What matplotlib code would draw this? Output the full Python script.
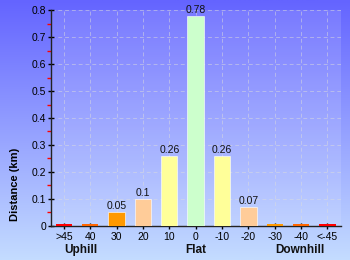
import numpy as np
import matplotlib
matplotlib.use('Agg')
import matplotlib.pyplot as plt
from matplotlib.colors import LinearSegmentedColormap

## Data ##

categories = ['>45', '40', '30', '20', '10', '0', '-10', '-20', '-30', '-40', '<-45']
distance = [0.005, 0.005, 0.05, 0.1, 0.26, 0.78, 0.26, 0.07, 0.005, 0.005, 0.005]
labels = ['', '', '0.05', '0.1', '0.26', '0.78', '0.26', '0.07', '', '', '']
colors = ['#ff0000', '#ff6600', '#ff9900', '#ffcc99', '#ffff99', '#ccffcc',
          '#ffff99', '#ffcc99', '#ff9900', '#ff6600', '#ff0000']
sections = ['Uphill', 'Flat', 'Downhill']
section_pos = [0.65, 5.0, 8.95]

plt.rcParams['font.family'] = ['Liberation Sans', 'DejaVu Sans']

fig = plt.figure(figsize = (3.5, 2.6), dpi = 100)

# Gradient background over the whole figure
bg = fig.add_axes([0, 0, 1, 1], zorder = -10)
cmap = LinearSegmentedColormap.from_list('bg', ['#6464ff', '#c4dcff'])
bg.imshow(np.linspace(0, 1, 256).reshape(-1, 1), aspect = 'auto', cmap = cmap, extent = [0, 1, 0, 1], origin = 'upper')
bg.axis('off')

ax = fig.add_axes([0.145, 0.132, 0.828, 0.828])
ax.set_facecolor((1, 1, 1, 0.12))
x = np.arange(len(categories))
edges = [(1, 1, 1, 0.7) if v > 0.01 else 'none' for v in distance]
ax.bar(x, distance, width = 0.62, color = colors, edgecolor = edges, linewidth = 0.6, zorder = 3)
for xi, v, lab in zip(x, distance, labels):
    if lab:
        ax.text(xi, v + 0.003, lab, ha = 'center', va = 'bottom', fontsize = 7.5, color = '#111111', zorder = 4)

ax.set_xlim(-0.5, len(categories) - 0.5)
ax.set_ylim(0, 0.8)
ax.set_xticks(x)
ax.set_xticklabels(categories, fontsize = 7.5)
ax.set_yticks(np.arange(0, 0.81, 0.1))
ax.set_yticklabels(['0'] + ['{:.1f}'.format(v) for v in np.arange(0.1, 0.81, 0.1)], fontsize = 7.5)
ax.set_yticks(np.arange(0.05, 0.8, 0.1), minor = True)
ax.tick_params(axis = 'y', which = 'major', direction = 'inout', length = 5, width = 1, pad = 1)
ax.tick_params(axis = 'y', which = 'minor', direction = 'out', length = 3, width = 1, color = 'red')
ax.tick_params(axis = 'x', direction = 'inout', length = 5, width = 1, pad = 2)
ax.grid(color = '#dddddd', linestyle = (0, (4, 3)), linewidth = 0.7, alpha = 0.5, zorder = 0)
ax.set_axisbelow(True)
for side in ('top', 'right'):
    ax.spines[side].set_visible(False)
for side in ('left', 'bottom'):
    ax.spines[side].set_color('#222222')
    ax.spines[side].set_linewidth(1.0)

ax.set_ylabel('Distance (km)', fontsize = 8, fontweight = 'bold', labelpad = 4)
ax.yaxis.set_label_coords(-0.105, 0.19)
for name, pos in zip(sections, section_pos):
    ax.text(pos, -0.09, name, ha = 'center', va = 'center', fontsize = 8.5, fontweight = 'bold', color = '#111111')

fig.savefig('out.png', dpi = 100)
